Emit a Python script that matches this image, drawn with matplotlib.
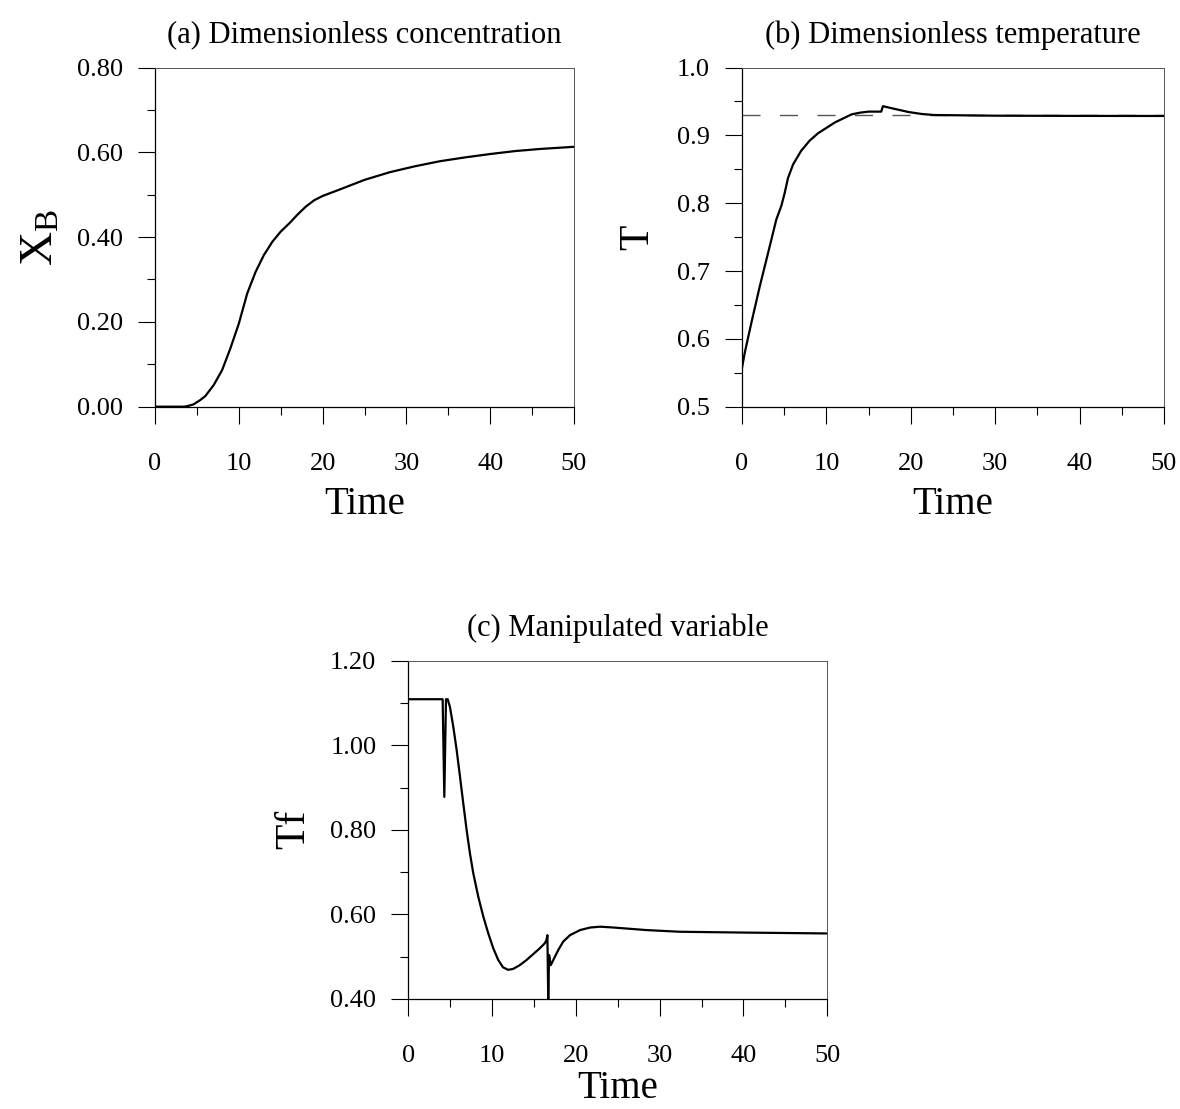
import numpy as np
import matplotlib
matplotlib.use("Agg")
import matplotlib.pyplot as plt
from matplotlib.ticker import MultipleLocator, FormatStrFormatter

plt.rcParams['font.family'] = ['Liberation Serif', 'DejaVu Serif']
plt.rcParams['mathtext.fontset'] = 'custom'
plt.rcParams['mathtext.rm'] = 'Liberation Serif'
plt.rcParams['mathtext.it'] = 'Liberation Serif'

# (a) dimensionless concentration X_B
t_a = [0, 3.5, 4.0, 4.6, 5.4, 6.0, 7.0, 8.0, 9.0, 10, 11, 12, 13, 14, 15, 16,
       17, 18, 19, 20, 22, 25, 28, 31, 34, 37, 40, 43, 46, 50]
xb = [0, 0, 0.002, 0.0055, 0.0157, 0.025, 0.051, 0.086, 0.138, 0.196, 0.267,
      0.318, 0.358, 0.389, 0.413, 0.432, 0.453, 0.472, 0.487, 0.497, 0.512,
      0.535, 0.553, 0.567, 0.579, 0.588, 0.596, 0.603, 0.608, 0.613]

# (b) dimensionless temperature T and its setpoint
t_b = [0, 0.32, 1.1, 2.1, 3.1, 4.07, 4.66, 5.06, 5.45, 6.05, 7.0, 8.0, 9.0,
       10, 11, 12, 13, 14, 15, 16.5, 16.7, 18.1, 19.7, 21.3, 22.8, 30, 40, 50]
temp = [0.557, 0.579, 0.623, 0.677, 0.727, 0.776, 0.796, 0.815, 0.837, 0.857,
        0.877, 0.892, 0.903, 0.911, 0.919, 0.925, 0.931, 0.9335, 0.935, 0.935,
        0.943, 0.939, 0.9345, 0.9315, 0.930, 0.929, 0.9287, 0.9286]
t_set = 0.93

# (c) manipulated variable Tf
t_c = [0, 4.1, 4.3, 4.5, 4.7, 4.97, 5.37, 5.77, 6.17, 6.56, 6.96, 7.36, 7.76,
       8.35, 8.95, 9.55, 10.14, 10.74, 11.3, 11.9, 12.5, 13.3, 14.1, 14.9,
       15.7, 16.3, 16.5, 16.6, 16.7, 16.8, 17.0, 17.3, 17.9, 18.5, 19.3, 20.5,
       21.7, 22.9, 24.5, 28.4, 32.4, 36.4, 40.4, 50]
tf = [1.109, 1.109, 0.878, 1.109, 1.109, 1.091, 1.044, 0.989, 0.926, 0.863,
      0.80, 0.744, 0.697, 0.642, 0.595, 0.555, 0.520, 0.492, 0.475, 0.469,
      0.471, 0.480, 0.492, 0.506, 0.520, 0.532, 0.540, 0.551, 0.40, 0.504,
      0.480, 0.492, 0.516, 0.536, 0.551, 0.563, 0.569, 0.571, 0.569, 0.563,
      0.559, 0.558, 0.557, 0.555]

fig = plt.figure(figsize=(11.8, 11.09), dpi=100)
ax_a = fig.add_axes([0.1314, 0.6333, 0.355, 0.3058])
ax_b = fig.add_axes([0.6288, 0.6333, 0.3576, 0.3058])
ax_c = fig.add_axes([0.346, 0.0992, 0.3551, 0.305])


def style(ax, ymin, ymax, ymaj, ymin_step, fmt, xpad=8):
    ax.set_xlim(0, 50)
    ax.set_ylim(ymin, ymax)
    ax.xaxis.set_major_locator(MultipleLocator(10))
    ax.xaxis.set_minor_locator(MultipleLocator(5))
    ax.yaxis.set_major_locator(MultipleLocator(ymaj))
    ax.yaxis.set_minor_locator(MultipleLocator(ymin_step))
    ax.yaxis.set_major_formatter(FormatStrFormatter(fmt))
    ax.tick_params(which='both', direction='out', top=False, right=False,
                   width=0.8, labelsize=19)
    ax.tick_params(which='major', length=12)
    ax.tick_params(which='minor', length=6)
    ax.tick_params(axis='x', which='major', pad=21)
    ax.tick_params(axis='y', which='major', pad=11)
    for s in ['left', 'bottom']:
        ax.spines[s].set_linewidth(0.9)
    for s in ['top', 'right']:
        ax.spines[s].set_linewidth(0.7)
        ax.spines[s].set_color('#555555')
    ax.set_xlabel('Time', fontsize=28, labelpad=xpad)


style(ax_a, 0, 0.8, 0.2, 0.1, '%.2f')
ax_a.plot(t_a, xb, color='black', lw=1.6)
ax_a.set_title('(a) Dimensionless concentration', fontsize=22, pad=18)
ax_a.set_ylabel(r'$\mathrm{X_B}$', fontsize=34, labelpad=10)

style(ax_b, 0.5, 1.0, 0.1, 0.05, '%.1f')
ax_b.axhline(t_set, color='#555555', lw=1.0, dashes=(13, 14))
ax_b.plot(t_b, temp, color='black', lw=1.6)
ax_b.set_title('(b) Dimensionless temperature', fontsize=22, pad=18)
ax_b.set_ylabel('T', fontsize=30, labelpad=14)

style(ax_c, 0.4, 1.2, 0.2, 0.1, '%.2f', xpad=2)
ax_c.plot(t_c, tf, color='black', lw=1.6)
ax_c.set_title('(c) Manipulated variable', fontsize=22, pad=18)
ax_c.set_ylabel('Tf', fontsize=30, labelpad=12)

fig.savefig('out.png', dpi=100)
